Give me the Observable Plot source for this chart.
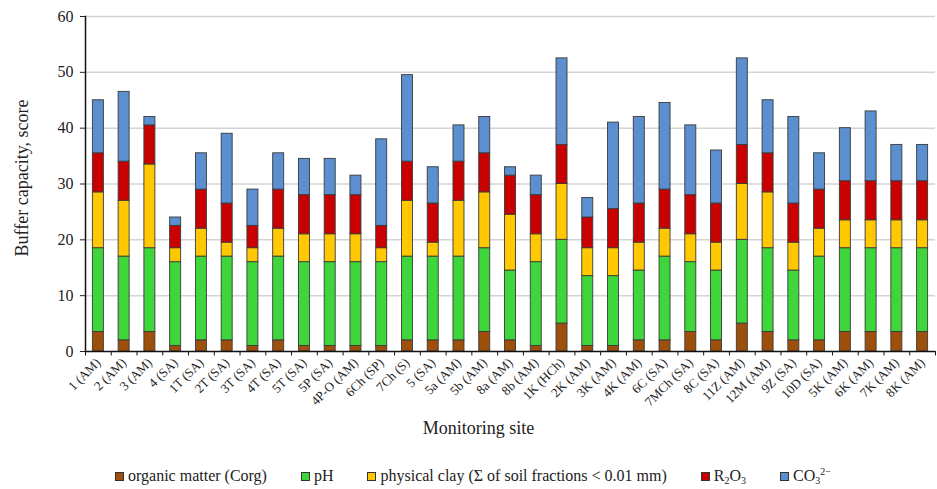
<!DOCTYPE html>
<html><head><meta charset="utf-8">
<script src="https://cdn.jsdelivr.net/npm/d3@7"></script>
<script src="https://cdn.jsdelivr.net/npm/@observablehq/plot@0.6"></script>
<style>
body{margin:0;background:#fff;font-family:"Liberation Serif","Times New Roman",serif;}
#legend{display:flex;align-items:center;font-size:16px;color:#222;padding-left:115px;height:22px;gap:34px;margin-top:9px;line-height:1;}
.item{display:flex;align-items:center;white-space:nowrap;}
.sw{width:7px;height:7px;border:1px solid #333;margin-right:4px;}
sub{font-size:10px;vertical-align:-3px;line-height:0;}
sup{font-size:10px;vertical-align:6px;line-height:0;}
</style></head><body><div id="chart"></div><div id="legend"></div>
<script>
const sites = ["1 (AM)","2 (AM)","3 (AM)","4 (SA)","1T (SA)","2T (SA)","3T (SA)","4T (SA)","5T (SA)","5P (SA)","4P-O (AM)","6Ch (SP)","7Ch (S)","5 (SA)","5a (AM)","5b (AM)","8a (AM)","8b (AM)","1K (HCh)","2K (AM)","3K (AM)","4K (AM)","6C (SA)","7MCh (SA)","8C (SA)","11Z (AM)","12M (AM)","9Z (SA)","10D (SA)","5K (AM)","6K (AM)","7K (AM)","8K (AM)"];
const organic = [3.5,2,3.5,1,2,2,1,2,1,1,1,1,2,2,2,3.5,2,1,5,1,1,2,2,3.5,2,5,3.5,2,2,3.5,3.5,3.5,3.5];
const pH = [15,15,15,15,15,15,15,15,15,15,15,15,15,15,15,15,12.5,15,15,12.5,12.5,12.5,15,12.5,12.5,15,15,12.5,15,15,15,15,15];
const clay = [10,10,15,2.5,5,2.5,2.5,5,5,5,5,2.5,10,2.5,10,10,10,5,10,5,5,5,5,5,5,10,10,5,5,5,5,5,5];
const r2o3 = [7,7,7,4,7,7,4,7,7,7,7,4,7,7,7,7,7,7,7,5.5,7,7,7,7,7,7,7,7,7,7,7,7,7];
const co3 = [9.5,12.5,1.5,1.5,6.5,12.5,6.5,6.5,6.5,6.5,3.5,15.5,15.5,6.5,6.5,6.5,1.5,3.5,15.5,3.5,15.5,15.5,15.5,12.5,9.5,15.5,9.5,15.5,6.5,9.5,12.5,6.5,6.5];
const seriesKeys = ["organic","pH","clay","R2O3","CO3"];
const seriesLabels = ["organic matter (Corg)","pH","physical clay (Σ of soil fractions < 0.01 mm)","R<sub>2</sub>O<sub>3</sub>","CO<sub>3</sub><sup>2−</sup>"];
const seriesColors = ["#9E4F0C","#3ED63A","#FFC800","#C80000","#5B8FD0"];
const yTicks = [0,10,20,30,40,50,60];
const yLabel = "Buffer capacity, score";
const xLabel = "Monitoring site";

const seriesValues = [organic,pH,clay,r2o3,co3];
const data = [];
sites.forEach((s,i)=>seriesKeys.forEach((k,j)=>data.push({site:s,series:k,value:seriesValues[j][i]})));

const W = 937, ML = 85, MR = 2;
const step = (W - ML - MR) / sites.length;
const inset = (step - 11) / 2;

const chart = Plot.plot({
  width:W, height:456,
  marginLeft:ML, marginRight:MR, marginTop:16, marginBottom:105,
  style:{fontFamily:'"Liberation Serif","Times New Roman",serif', color:"#222", background:"#fff"},
  x:{domain:sites, padding:0, round:false},
  y:{domain:[0,60]},
  color:{domain:seriesKeys, range:seriesColors},
  marks:[
    Plot.gridY(yTicks.slice(1),{stroke:"#d4d4d4",strokeOpacity:1,strokeWidth:1.5}),
    Plot.barY(data,{x:"site",y:"value",fill:"series",stroke:"#3a3a3a",strokeWidth:0.9,order:seriesKeys,insetLeft:inset,insetRight:inset}),
    Plot.frame({anchor:"left",stroke:"#111",strokeWidth:1.5}),
    Plot.ruleY([0],{stroke:"#111",strokeWidth:1.5}),
    Plot.ruleX(sites,{x:d=>d,dx:step/2,y1:0,y2:-0.8,stroke:"#111"}),
    Plot.ruleX([sites[0]],{x:d=>d,dx:-step/2,y1:0,y2:-0.8,stroke:"#111"}),
    Plot.axisY(yTicks,{tickSize:5,tickPadding:7,fontSize:16,label:null}),
    Plot.text([yLabel],{frameAnchor:"left",textAnchor:"middle",dx:-63,dy:-6,rotate:-90,fontSize:18,fill:"#222"}),
    Plot.axisX({tickSize:0,tickRotate:-45,fontSize:13,tickPadding:9,label:null}),
    Plot.text([xLabel],{frameAnchor:"bottom",dy:82,dx:-32,fontSize:18,fill:"#222"})
  ]
});
document.getElementById("chart").appendChild(chart);

const legend = document.getElementById("legend");
seriesLabels.forEach((lab,i)=>{
  const it=document.createElement("div");it.className="item";
  it.innerHTML=`<span class="sw" style="background:${seriesColors[i]}"></span><span>${lab}</span>`;
  legend.appendChild(it);
});
</script></body></html>
